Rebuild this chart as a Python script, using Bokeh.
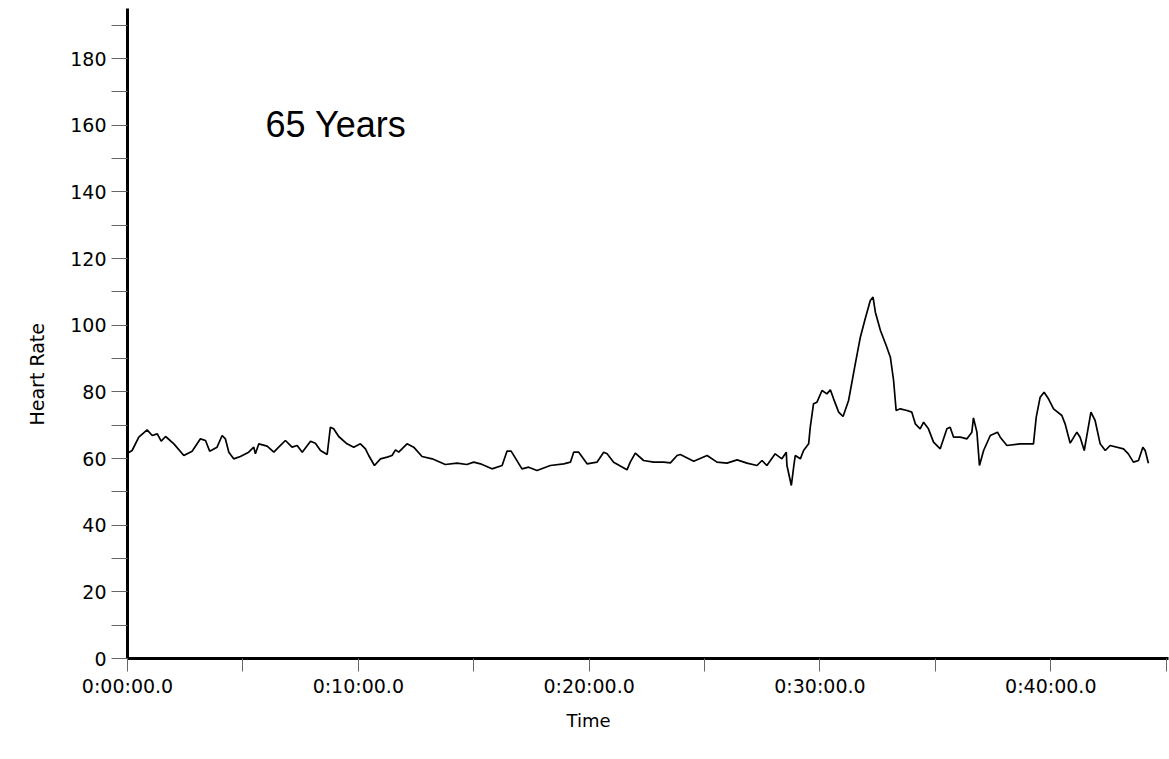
from bokeh.plotting import figure
from bokeh.models import Range1d, FixedTicker, CustomJSTickFormatter, Label, Title
from bokeh.embed import file_html
from bokeh.resources import INLINE

# ---- data (time in minutes, heart rate in bpm) ----
time_min = [
    0.00, 0.20, 0.49, 0.85, 1.07, 1.29, 1.46, 1.65, 2.01, 2.44, 2.80, 3.16, 3.38, 3.56, 3.88,
    4.10, 4.24, 4.39, 4.60, 4.89, 5.25, 5.47, 5.54, 5.69, 6.05, 6.34, 6.55, 6.84, 7.13, 7.35,
    7.57, 7.93, 8.14, 8.36, 8.65, 8.79, 8.93, 9.15, 9.51, 9.80, 10.09, 10.31, 10.45, 10.70,
    10.96, 11.25, 11.46, 11.61, 11.75, 12.11, 12.40, 12.76, 13.20, 13.77, 14.28, 14.70,
    15.00, 15.29, 15.79, 16.23, 16.44, 16.62, 17.09, 17.38, 17.74, 18.32, 18.90, 19.19, 19.33,
    19.55, 19.91, 20.34, 20.63, 20.78, 21.06, 21.64, 21.78, 22.00, 22.36, 22.79, 23.23, 23.52,
    23.81, 23.95, 24.53, 25.11, 25.54, 25.97, 26.41, 26.84, 27.27, 27.49, 27.70,
    28.06, 28.35, 28.54, 28.57, 28.76, 28.86, 28.93, 29.15, 29.29, 29.51, 29.58, 29.72, 29.87,
    30.09, 30.30, 30.45, 30.59, 30.81, 31.00, 31.24, 31.53, 31.75, 31.96, 32.18, 32.30, 32.40,
    32.62, 32.87, 33.05, 33.19, 33.30, 33.48, 33.77, 33.98, 34.13, 34.34, 34.49, 34.70, 34.92,
    35.21, 35.50, 35.64, 35.79, 36.08, 36.37, 36.58, 36.65, 36.80, 36.91, 37.09, 37.38, 37.69,
    37.81, 38.10, 38.67, 39.25, 39.37, 39.54, 39.71, 39.90, 40.12, 40.48, 40.62, 40.84, 41.13,
    41.27, 41.45, 41.74, 41.92, 42.14, 42.36, 42.57, 43.15, 43.36, 43.58, 43.80, 43.99, 44.09,
    44.23,
]
heart_rate = [
    61.6, 62.4, 66.4, 68.6, 66.9, 67.4, 65.2, 66.6, 64.4, 60.9, 62.2, 65.9, 65.4, 62.2, 63.4,
    66.9, 65.9, 61.9, 59.9, 60.6, 61.9, 63.4, 61.4, 64.4, 63.7, 61.9, 63.4, 65.4, 63.4, 63.9,
    61.9, 65.2, 64.6, 62.4, 61.2, 69.4, 68.9, 66.6, 64.4, 63.4, 64.4, 62.9, 60.9, 57.9,
    59.9, 60.4, 60.9, 62.6, 61.9, 64.4, 63.4, 60.6, 59.9, 58.2, 58.6, 58.2,
    58.9, 58.4, 56.9, 57.9, 62.2, 62.2, 56.9, 57.4, 56.4, 57.9, 58.4, 58.9, 61.9,
    61.9, 58.4, 58.9, 61.9, 61.4, 58.9, 56.6, 58.9, 61.6, 59.4, 58.9, 58.9, 58.7,
    60.9, 61.2, 59.2, 60.9, 58.9, 58.6, 59.6, 58.6, 57.9, 59.4, 57.9,
    61.4, 59.9, 61.9, 57.9, 51.9, 57.4, 60.9, 59.9, 62.4, 64.4, 69.4, 76.4, 76.9,
    80.4, 79.4, 80.6, 77.9, 73.9, 72.6, 77.4, 88.4, 96.4, 101.9, 107.4, 108.4, 103.9,
    98.4, 93.9, 90.4, 83.4, 74.4, 74.9, 74.4, 73.9, 70.4, 68.9, 70.9, 68.9, 64.9,
    62.9, 68.9, 69.4, 66.4, 66.4, 65.9, 67.9, 72.2, 67.9, 57.9, 62.4, 66.9, 67.9,
    66.4, 63.9, 64.4, 64.4, 72.4, 78.4, 79.9, 77.9, 74.9, 72.9, 70.4, 64.6, 67.9,
    66.4, 62.4, 73.9, 71.4, 64.4, 62.4, 63.9, 62.9, 61.4, 58.9, 59.4, 63.4, 62.4,
    58.6,
]

x_ticks = [0, 5, 10, 15, 20, 25, 30, 35, 40, 45]
x_tick_labels = ["0:00:00.0", "", "0:10:00.0", "", "0:20:00.0", "", "0:30:00.0", "", "0:40:00.0", ""]
y_ticks = [0, 10, 20, 30, 40, 50, 60, 70, 80, 90, 100, 110, 120, 130, 140, 150, 160, 170, 180, 190]
y_tick_labels = ["0", "", "20", "", "40", "", "60", "", "80", "", "100", "", "120", "", "140", "",
                 "160", "", "180", ""]

annotation_text = "65 Years"
x_title = "Time"
y_title = "Heart Rate"

# ---- figure ----
p = figure(
    width=1169, height=745,
    x_range=Range1d(0, 45.1), y_range=Range1d(0, 195),
    output_backend="svg", toolbar_location=None,
    min_border_left=127, min_border_right=1, min_border_top=8, min_border_bottom=87,
)
p.outline_line_color = None
p.xgrid.grid_line_color = None
p.ygrid.grid_line_color = None
p.background_fill_color = "white"
p.border_fill_color = "white"

p.line(time_min, heart_rate, line_color="black", line_width=1.7)

fmt_code = """
const i = tick_vals.indexOf(Math.round(tick));
return i >= 0 ? tick_texts[i] : "";
"""

xa = p.xaxis[0]
xa.ticker = FixedTicker(ticks=x_ticks, minor_ticks=[])
xa.formatter = CustomJSTickFormatter(args=dict(tick_vals=x_ticks, tick_texts=x_tick_labels), code=fmt_code)
ya = p.yaxis[0]
ya.ticker = FixedTicker(ticks=y_ticks, minor_ticks=[])
ya.formatter = CustomJSTickFormatter(args=dict(tick_vals=y_ticks, tick_texts=y_tick_labels), code=fmt_code)

for ax in (xa, ya):
    ax.axis_line_color = "black"
    ax.axis_line_width = 3
    ax.major_tick_line_color = "#666666"
    ax.major_tick_line_width = 1
    ax.major_tick_in = 0
    ax.minor_tick_line_color = None
    ax.major_label_text_font = "DejaVu Sans"
    ax.major_label_text_color = "black"

xa.major_tick_out = 13
xa.major_label_standoff = 3
xa.major_label_text_font_size = "19px"

ya.major_tick_out = 16
ya.major_label_standoff = 5
ya.major_label_text_font_size = "19px"
ya.major_label_orientation = "horizontal"

# axis titles placed where the reference has them (below 0:20:00 and left of the axis)
p.add_layout(Title(text=x_title, align="left", offset=439, standoff=16,
                   text_font="DejaVu Sans", text_font_size="18px",
                   text_font_style="normal", text_color="black"), "below")
p.add_layout(Title(text=y_title, align="left", offset=233, standoff=40,
                   text_font="DejaVu Sans", text_font_size="19px",
                   text_font_style="normal", text_color="black"), "left")

p.add_layout(Label(x=5.98, y=160.3, text=annotation_text, text_font="Liberation Sans",
                   text_font_size="36px", text_color="black", text_baseline="alphabetic"))

open("out.html", "w").write(file_html(p, INLINE))
